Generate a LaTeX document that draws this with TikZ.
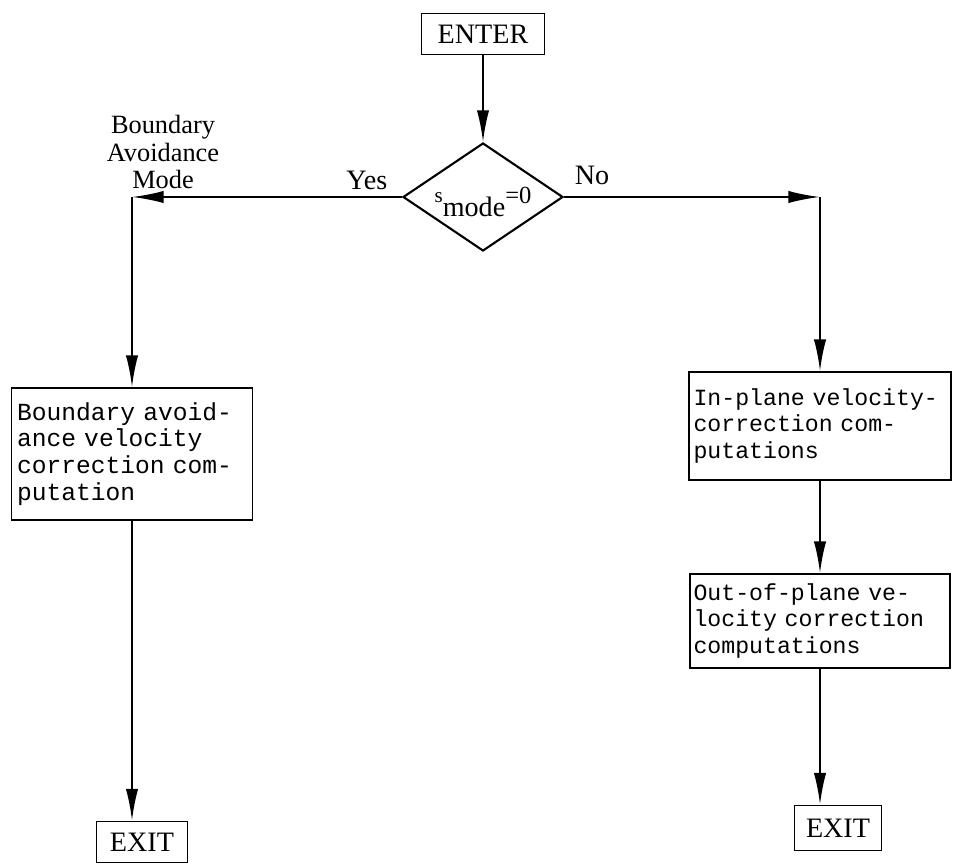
\documentclass[tikz,border=0pt]{standalone}
\usepackage{fontspec}
\setmainfont{Liberation Serif}
\setmonofont{Liberation Mono}
\usepackage{tikz}
\usetikzlibrary{shapes.geometric, positioning, arrows.meta}

\begin{document}
\begin{tikzpicture}[node distance=2cm, on grid, line width=1.2pt,
    >={Latex[length=18pt,width=7pt]},
    lbl/.style={font=\fontsize{16}{17}\selectfont},
    term/.style={draw, line width=1pt, lbl, minimum height=0.82cm, inner sep=2pt},
    block/.style={draw, line width=1pt, align=left, inner sep=0pt,
        font=\ttfamily\fontsize{13.2}{15.3}\selectfont},
    decision/.style={draw, diamond, line width=1.2pt, inner sep=0pt,
        minimum width=3.2cm, minimum height=2.16cm}]
            \useasboundingbox (0,0) rectangle (19.06,17.26);
            \node [term, minimum width=2.46cm] (enter) at (9.66,16.58) {ENTER};
            \node [decision] [below=3.26cm of enter] (mode) {};
            \node [lbl] at ([yshift=-0.1cm]mode.center)
            	{\raisebox{1.1ex}{\fontsize{12}{12}\selectfont s}mode\raisebox{1.0ex}{\fontsize{14}{14}\selectfont =0}};
            \node [block, minimum width=4.82cm, minimum height=2.64cm, text width=4.6cm,
            	font=\ttfamily\fontsize{14}{15.3}\selectfont]
            	[below left=5.14cm and 7.02cm of mode] (bav)
            	{Boundary avoid-\\ance velocity\\correction com-\\putation};
            \node [term, minimum width=1.82cm] [below=7.76cm of bav, xshift=0.2cm] (exit_l) {EXIT};
            \node [block, minimum width=5.24cm, minimum height=2.16cm, text width=5.06cm]
            	[below right=4.58cm and 6.74cm of mode] (inp)
            	{In-plane velocity-\\correction com-\\putations};
            \node [block, minimum width=5.2cm, minimum height=1.88cm, text width=5.06cm]
            	[below=3.9cm of inp] (oop)
            	{Out-of-plane ve-\\locity correction\\computations};
            \node [term, minimum width=1.74cm, minimum height=0.9cm] [below=4.14cm of oop, xshift=0.36cm] (exit_r) {EXIT};
            \coordinate (yes_c) at (mode -| bav);
            \coordinate (no_c) at (mode -| inp);
            % branch labels
            \node [lbl] (yes) at ([xshift=-0.7cm, yshift=0.34cm]mode.west) {Yes};
            \node [lbl] (no) at ([xshift=0.56cm, yshift=0.44cm]mode.east) {No};
            \node [lbl, align=center, font=\fontsize{15}{15.5}\selectfont]
            	(bam) at ([xshift=0.62cm, yshift=0.9cm]yes_c) {Boundary\\Avoidance\\Mode};
            % connectors
            \draw[->] (enter) -- (mode);
            \draw[->] (mode.west) -- (yes_c);
            \draw[->] (yes_c) -- (bav);
            \draw[->] (bav.south) -- (bav.south |- exit_l.north);
            \draw[->] (mode.east) -- (no_c);
            \draw[->] (no_c) -- (inp);
            \draw[->] (inp) -- (oop);
            \draw[->] (oop.south) -- (oop.south |- exit_r.north);
\end{tikzpicture}
\end{document}
